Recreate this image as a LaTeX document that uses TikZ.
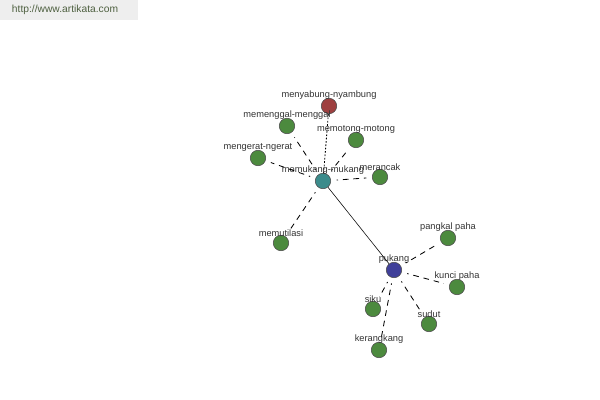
\documentclass[tikz,border=0pt]{standalone}
\usepackage{fontspec}
\setmainfont{Liberation Sans}
\definecolor{leafgreen}{HTML}{4C8A3E}
\definecolor{hubteal}{HTML}{3C8C8C}
\definecolor{hubblue}{HTML}{40409A}
\definecolor{rootred}{HTML}{9E4040}
\definecolor{textgray}{HTML}{333333}
\definecolor{markgray}{HTML}{EEEEEE}
\definecolor{markgreen}{HTML}{4E6040}
\tikzset{
  word/.style={draw=black!70, circle, minimum size=11, inner sep=0pt, fill=leafgreen},
  wlabel/.style={font=\fontsize{6.6}{7}\selectfont, text=textgray, inner sep=0pt},
  rel/.style={dash pattern=on 4pt off 3.5pt, dash phase=3pt, line width=0.6pt, shorten <=4pt, shorten >=4pt}
}
\begin{document}
\begin{tikzpicture}[x=0.025cm, y=-0.025cm, every label/.style={wlabel}, label distance=-1.5pt]
\useasboundingbox (0,0) rectangle (600,400);
\fill[markgray] (0,0) rectangle (138,20);
\node[font=\fontsize{7.3}{8}\selectfont, text=markgreen, anchor=west] (site) at (7,10) {http://www.artikata.com};

\node[word, fill=hubteal, label=above:memukang-mukang] (mm) at (323,181) {};
\node[word, fill=rootred, label=above:menyabung-nyambung] (ny) at (329,106) {};
\node[word, label=above:memenggal-menggal] (mg) at (287,126) {};
\node[word, label=above:memotong-motong] (mt) at (356,140) {};
\node[word, label=above:mengerat-ngerat] (me) at (258,158) {};
\node[word, label=above:merancak] (mr) at (380,177) {};
\node[word, label=above:memutilasi] (mu) at (281,243) {};

\node[word, fill=hubblue, label=above:pukang] (pk) at (394,270) {};
\node[word, label=above:pangkal paha] (pp) at (448,238) {};
\node[word, label=above:kunci paha] (kp) at (457,287) {};
\node[word, label=above:siku] (sk) at (373,309) {};
\node[word, label=above:sudut] (sd) at (429,324) {};
\node[word, label=above:kerangkang] (kr) at (379,350) {};

\draw[dash pattern=on 1.2pt off 1.2pt, line width=0.6pt] (mm) -- (ny);
\draw (mm) -- (pk);
\foreach \w in {mg,mt,me,mr,mu}
  \draw[rel] (mm) -- (\w);
\foreach \w in {pp,kp,sk,sd,kr}
  \draw[rel] (pk) -- (\w);
\end{tikzpicture}
\end{document}
